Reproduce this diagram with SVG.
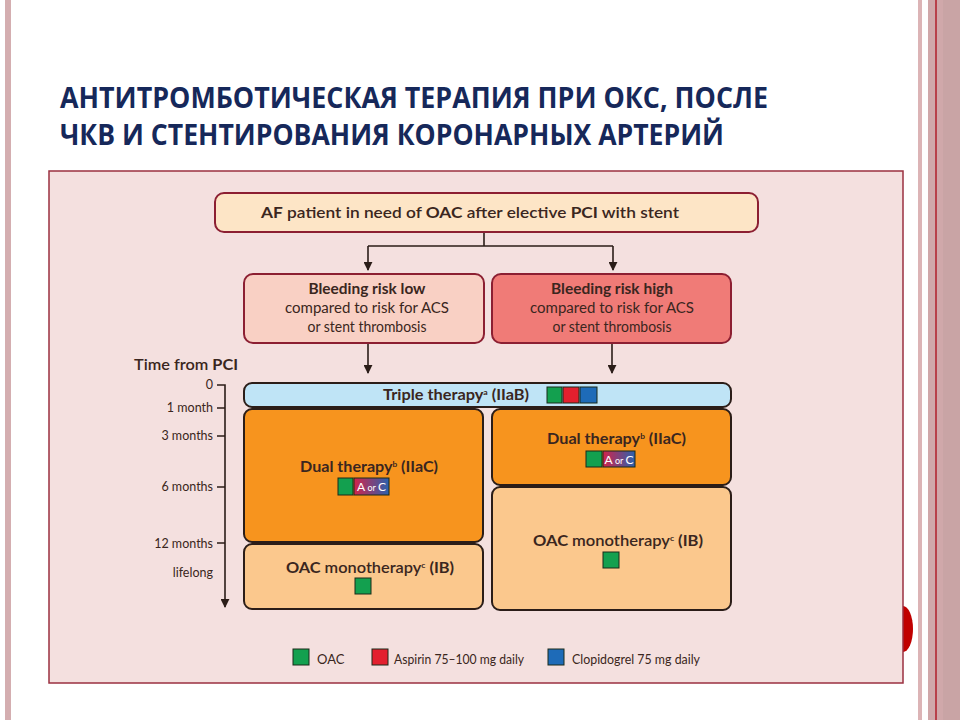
<svg xmlns="http://www.w3.org/2000/svg" width="960" height="720" viewBox="0 0 960 720">
<defs>
<style>
.t{font-family:Lato,"Open Sans","Liberation Sans",sans-serif;fill:#3a2620}
.b{font-weight:700}
.title{font-family:"Open Sans","Liberation Sans",sans-serif;font-weight:700;fill:#16285a;font-size:29px}
.rb{stroke:#8c1f32;stroke-width:2}
.db{stroke:#2b1d18;stroke-width:2}
.ln{stroke:#2b1d18;stroke-width:1.6;fill:none}
.g{fill:#13a04f;stroke:#1a2a1a;stroke-width:1}
.r{fill:#e2202e;stroke:#1a2a1a;stroke-width:1}
.bl{fill:#1e6bb8;stroke:#1a2a1a;stroke-width:1}
</style>
<marker id="ar2" viewBox="0 0 10 10" refX="9" refY="5" markerWidth="9" markerHeight="9" orient="auto" markerUnits="userSpaceOnUse">
<path d="M0,0 L10,5 L0,10 z" fill="#2b1d18"/>
</marker>
<linearGradient id="aoc" x1="0" y1="0" x2="1" y2="0">
<stop offset="0" stop-color="#d2234a"/>
<stop offset="1" stop-color="#2a62ae"/>
</linearGradient>
</defs>
<rect x="0" y="0" width="960" height="720" fill="#ffffff"/>
<!-- slide decoration -->
<rect x="5" y="0" width="6" height="720" fill="#d4aeb0"/>
<rect x="918" y="0" width="4" height="720" fill="#dcb4b6"/>
<rect x="928" y="0" width="32" height="720" fill="#d0a8aa"/>
<rect x="943" y="0" width="17" height="720" fill="#c9a4a5"/>
<rect x="935" y="0" width="2" height="720" fill="#b8404a"/>
<ellipse cx="903" cy="629" rx="10" ry="23" fill="#c00000"/>
<!-- title -->
<text class="title" x="60" y="108" textLength="708" lengthAdjust="spacingAndGlyphs">АНТИТРОМБОТИЧЕСКАЯ ТЕРАПИЯ ПРИ ОКС, ПОСЛЕ</text>
<text class="title" x="60" y="145" textLength="664" lengthAdjust="spacingAndGlyphs">ЧКВ И СТЕНТИРОВАНИЯ КОРОНАРНЫХ АРТЕРИЙ</text>
<!-- panel -->
<rect x="49" y="171" width="854" height="512" fill="#f4e0df" stroke="#9b3040" stroke-width="1.5"/>
<!-- connectors -->
<g id="connectors">
<path class="ln" d="M484,232 V246 M368,246 H613"/>
<path class="ln" d="M368,246 V270" marker-end="url(#ar2)"/>
<path class="ln" d="M613,246 V270" marker-end="url(#ar2)"/>
<path class="ln" d="M368,343 V373" marker-end="url(#ar2)"/>
<path class="ln" d="M612,343 V373" marker-end="url(#ar2)"/>
</g>
<!-- timeline -->
<g id="timeline">
<text class="t" x="134" y="370" font-size="15" textLength="104" lengthAdjust="spacingAndGlyphs"><tspan font-weight="600">Time from </tspan><tspan class="b">PCI</tspan></text>
<path class="ln" d="M217,385 H225 V607" marker-end="url(#ar2)"/>
<path class="ln" d="M217,408 H225 M217,436 H225 M217,487 H225 M217,543 H225"/>
<g font-size="12.5" text-anchor="end">
<text class="t" x="213" y="389">0</text>
<text class="t" x="213" y="412">1 month</text>
<text class="t" x="213" y="440">3 months</text>
<text class="t" x="213" y="491">6 months</text>
<text class="t" x="213" y="548">12 months</text>
<text class="t" x="213" y="577">lifelong</text>
</g>
</g>
<!-- nodes -->
<g id="start">
<rect class="rb" x="215" y="193" width="543" height="39" rx="9" fill="#fde5c6"/>
<text class="t" x="470" y="218" font-size="16" text-anchor="middle" textLength="418" lengthAdjust="spacingAndGlyphs"><tspan class="b">AF</tspan><tspan font-weight="600"> patient in need of </tspan><tspan class="b">OAC</tspan><tspan font-weight="600"> after elective </tspan><tspan class="b">PCI</tspan><tspan font-weight="600"> with stent</tspan></text>
</g>
<g id="risk-low">
<rect class="rb" x="244" y="274" width="240" height="69" rx="9" fill="#f9d0c4"/>
<text class="t b" x="367" y="294" font-size="15" text-anchor="middle" textLength="117" lengthAdjust="spacingAndGlyphs">Bleeding risk low</text>
<text class="t" x="367" y="313" font-size="14.5" text-anchor="middle" textLength="164" lengthAdjust="spacingAndGlyphs">compared to risk for ACS</text>
<text class="t" x="367" y="332" font-size="14.5" text-anchor="middle" textLength="119" lengthAdjust="spacingAndGlyphs">or stent thrombosis</text>
</g>
<g id="risk-high">
<rect class="rb" x="492" y="274" width="239" height="69" rx="9" fill="#f07b77"/>
<text class="t b" x="612" y="294" font-size="15" text-anchor="middle" textLength="122" lengthAdjust="spacingAndGlyphs">Bleeding risk high</text>
<text class="t" x="612" y="313" font-size="14.5" text-anchor="middle" textLength="164" lengthAdjust="spacingAndGlyphs">compared to risk for ACS</text>
<text class="t" x="612" y="332" font-size="14.5" text-anchor="middle" textLength="119" lengthAdjust="spacingAndGlyphs">or stent thrombosis</text>
</g>
<g id="triple">
<rect class="db" x="244" y="383" width="487" height="24" rx="8" fill="#bfe4f6"/>
<text class="t b" x="383" y="400" font-size="15" textLength="146" lengthAdjust="spacingAndGlyphs">Triple therapy<tspan font-size="8" dy="-5">a</tspan><tspan dy="5"> (IIaB)</tspan></text>
<rect class="g" x="547" y="387" width="15" height="16"/>
<rect class="r" x="563" y="387" width="16" height="16"/>
<rect class="bl" x="580" y="387" width="17" height="16"/>
</g>
<g id="dual-low">
<rect class="db" x="244" y="409" width="239" height="133" rx="8" fill="#f7941e"/>
<text class="t b" x="300" y="472" font-size="15.5" textLength="138" lengthAdjust="spacingAndGlyphs">Dual therapy<tspan font-size="8" dy="-5">b</tspan><tspan dy="5"> (IIaC)</tspan></text>
<rect class="g" x="338" y="478" width="15" height="17"/>
<rect x="354" y="478" width="35" height="17" fill="url(#aoc)" stroke="#1a2a1a" stroke-width="1"/>
<text x="371.5" y="491" font-family="Lato,'Liberation Sans',sans-serif" font-size="12" fill="#ffffff" text-anchor="middle">A<tspan font-size="9"> or </tspan>C</text>
</g>
<g id="oac-low">
<rect class="db" x="244" y="544" width="239" height="65" rx="8" fill="#fbc88d"/>
<text class="t b" x="286" y="573" font-size="15.5" textLength="168" lengthAdjust="spacingAndGlyphs">OAC <tspan font-weight="600">monotherapy</tspan><tspan font-size="8" dy="-5">c</tspan><tspan dy="5"> (IB)</tspan></text>
<rect class="g" x="355" y="578" width="16" height="16"/>
</g>
<g id="dual-high">
<rect class="db" x="492" y="409" width="239" height="76" rx="8" fill="#f7941e"/>
<text class="t b" x="547" y="444" font-size="15.5" textLength="139" lengthAdjust="spacingAndGlyphs">Dual therapy<tspan font-size="8" dy="-5">b</tspan><tspan dy="5"> (IIaC)</tspan></text>
<rect class="g" x="586" y="451" width="16" height="16"/>
<rect x="603" y="451" width="32" height="16" fill="url(#aoc)" stroke="#1a2a1a" stroke-width="1"/>
<text x="619" y="463.5" font-family="Lato,'Liberation Sans',sans-serif" font-size="12" fill="#ffffff" text-anchor="middle">A<tspan font-size="9"> or </tspan>C</text>
</g>
<g id="oac-high">
<rect class="db" x="492" y="487" width="239" height="123" rx="8" fill="#fbc88d"/>
<text class="t b" x="533" y="546" font-size="15.5" textLength="170" lengthAdjust="spacingAndGlyphs">OAC <tspan font-weight="600">monotherapy</tspan><tspan font-size="8" dy="-5">c</tspan><tspan dy="5"> (IB)</tspan></text>
<rect class="g" x="603" y="552" width="16" height="16"/>
</g>
<g id="legend">
<rect class="g" x="293" y="649" width="16" height="16"/>
<text class="t" x="317" y="664" font-size="13">OAC</text>
<rect class="r" x="372" y="649" width="16" height="16"/>
<text class="t" x="394" y="664" font-size="13" textLength="130" lengthAdjust="spacingAndGlyphs">Aspirin 75–100 mg daily</text>
<rect class="bl" x="548" y="649" width="16" height="16"/>
<text class="t" x="572" y="664" font-size="13" textLength="128" lengthAdjust="spacingAndGlyphs">Clopidogrel 75 mg daily</text>
</g>
</svg>
